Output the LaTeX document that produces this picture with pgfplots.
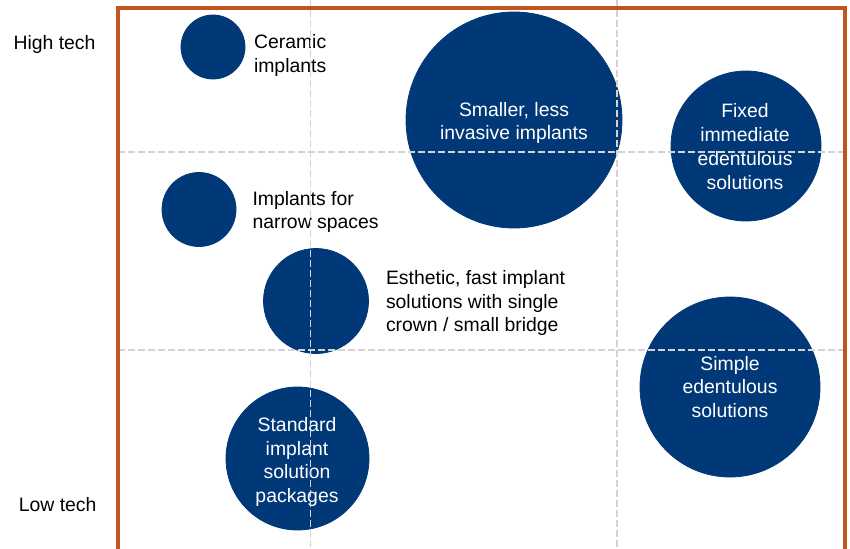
\documentclass[border=0pt]{standalone}
\usepackage{fontspec}
\setmainfont{Liberation Sans}
\usepackage{pgfplots}
\usepackage{pgfplotstable}
\pgfplotsset{compat=1.18}
\definecolor{navy}{HTML}{003878}
\definecolor{frameor}{HTML}{C0561F}
\definecolor{gridg}{HTML}{D3D3D3}

% bubble centres and radii (in pixel units of the reference)
\pgfplotstableread{
x y r
213 47 32
514 120 108
746 146 75
199 209.5 37
316 301 52.5
297.5 458.5 71.5
730 387 90
}\bubbles

\tikzset{lbl/.style={font=\fontsize{9.7}{11.9}\selectfont, inner sep=0pt, outer sep=0pt}}

\begin{document}
\begin{tikzpicture}
\begin{axis}[
  name=ax, set layers,
  scale only axis, width=425pt, height=274pt,
  xmin=0, xmax=850, ymin=0, ymax=548, y dir=reverse,
  hide axis, clip=false,
]
\addplot[scatter, only marks, mark=*,
  mark options={draw=navy, fill=navy},
  scatter/use mapped color={draw=navy, fill=navy},
  visualization depends on={\thisrow{r}*0.5 \as \perpointmarksize},
  scatter/@pre marker code/.append style={/tikz/mark size=\perpointmarksize}]
  table[x=x, y=y] {\bubbles};

\begin{pgfonlayer}{axis foreground}
% labels inside bubbles
\node[lbl, white, align=center] at (axis cs:514,123) {Smaller, less\\invasive implants};
\node[lbl, white, align=center] at (axis cs:745,146.5) {Fixed\\immediate\\edentulous\\solutions};
\node[lbl, white, align=center] at (axis cs:730,387) {Simple\\edentulous\\solutions};
\node[lbl, white, align=center] at (axis cs:297,462) {Standard\\implant\\solution\\packages};

% labels beside bubbles
\node[lbl, black, align=left, anchor=west] at (axis cs:254,55.5) {Ceramic\\implants};
\node[lbl, black, align=left, anchor=west] at (axis cs:252.5,212) {Implants for\\narrow spaces};
\node[lbl, black, align=left, anchor=west] at (axis cs:386,303) {Esthetic, fast implant\\solutions with single\\crown / small bridge};

% axis end labels
\node[lbl, black, anchor=base east] at (axis cs:95.5,49) {High tech};
\node[lbl, black, anchor=base east] at (axis cs:96.5,511) {Low tech};

% dashed grid
\draw[gridg, line width=0.75pt, dash pattern=on 3.5pt off 1.5pt]
  (axis cs:310.5,0) -- (axis cs:310.5,548)
  (axis cs:617,0) -- (axis cs:617,548)
  (axis cs:118,152) -- (axis cs:845,152)
  (axis cs:118,350) -- (axis cs:845,350);

% frame
\draw[frameor, line width=2pt, line join=miter]
  (axis cs:117.5,560) -- (axis cs:117.5,7.5) -- (axis cs:845,7.5) -- (axis cs:845,560);
\end{pgfonlayer}
\end{axis}
\pgfresetboundingbox
\path (ax.south west) rectangle (ax.north east);
\end{tikzpicture}
\end{document}
